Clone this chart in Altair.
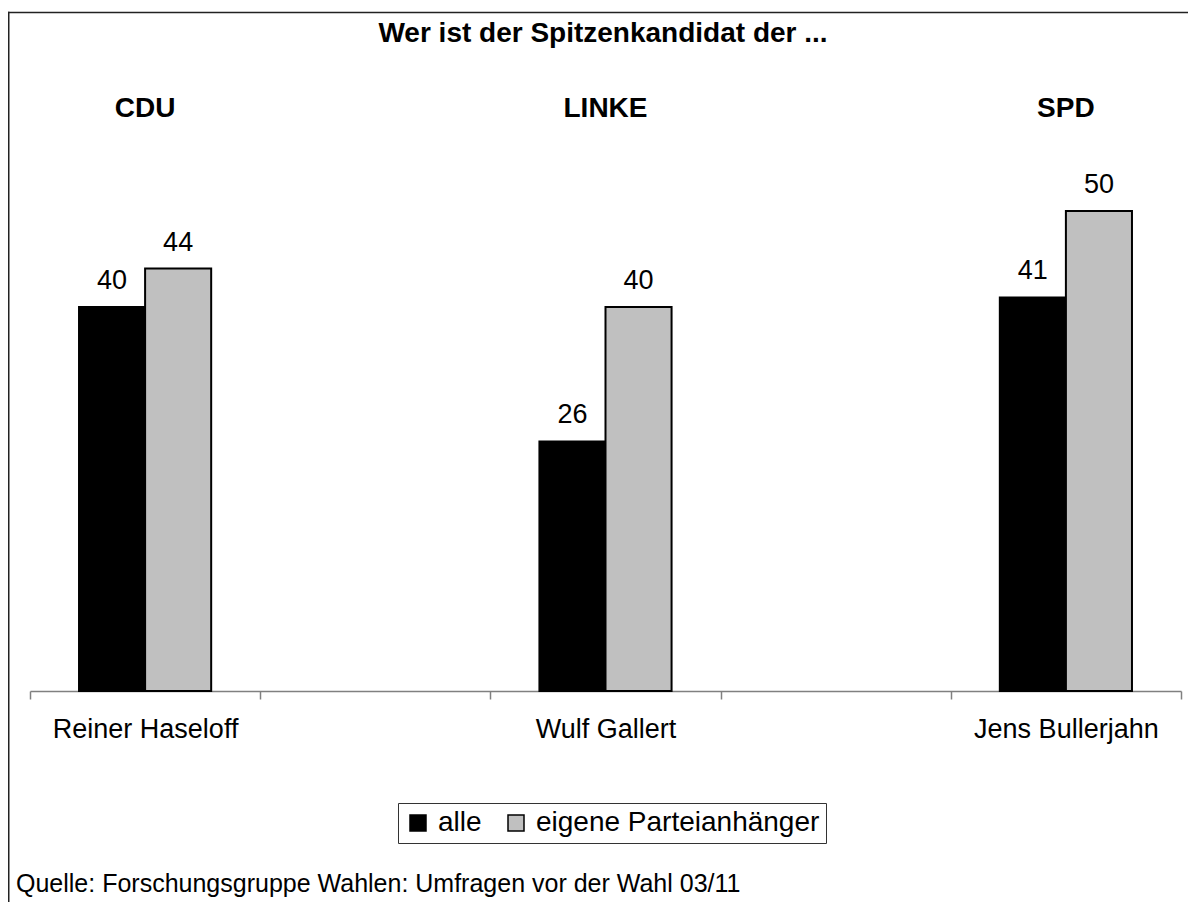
import altair as alt
import pandas as pd

# ---- data -------------------------------------------------------------
candidates = ["Reiner Haseloff", "Wulf Gallert", "Jens Bullerjahn"]
parties = ["CDU", "LINKE", "SPD"]
series_names = ["alle", "eigene Parteianhänger"]
values_alle = [40, 26, 41]
values_anhaenger = [44, 40, 50]
# axis slots: candidates separated by empty slots
axis_slots = ["Reiner Haseloff", " ", "Wulf Gallert", "  ", "Jens Bullerjahn"]
title_text = "Wer ist der Spitzenkandidat der ..."
source_text = "Quelle: Forschungsgruppe Wahlen: Umfragen vor der Wahl 03/11"

rows = []
for c, p, a, e in zip(candidates, parties, values_alle, values_anhaenger):
    rows.append({"candidate": c, "party": p, "series": series_names[0], "value": a})
    rows.append({"candidate": c, "party": p, "series": series_names[1], "value": e})
df = pd.DataFrame(rows)
party_df = pd.DataFrame({"candidate": candidates, "party": parties})
title_df = pd.DataFrame({"label": [title_text]})
source_df = pd.DataFrame({"label": [source_text]})
one = pd.DataFrame({"k": [0]})

FONT = "Liberation Sans"

x_scale = alt.Scale(domain=axis_slots, paddingInner=0, paddingOuter=0)
x_enc = alt.X(
    "candidate:N",
    scale=x_scale,
    axis=alt.Axis(
        title=None,
        tickBand="extent",
        labelAngle=0,
        labelFont=FONT,
        labelFontSize=27,
        labelColor="black",
        labelBaseline="alphabetic",
        labelPadding=38,
        labelLimit=0,
        tickSize=8,
        tickColor="#808080",
        tickWidth=1.5,
        domainColor="#808080",
        domainWidth=1.5,
        grid=False,
    ),
)
x_off = alt.XOffset(
    "series:N",
    scale=alt.Scale(domain=series_names, paddingInner=0, paddingOuter=0.742),
)
y_enc = alt.Y("value:Q", scale=alt.Scale(domain=[0, 60]), axis=None)

bars = alt.Chart(df).mark_bar(stroke="black", strokeWidth=2).encode(
    x=x_enc,
    xOffset=x_off,
    y=y_enc,
    color=alt.Color(
        "series:N",
        scale=alt.Scale(domain=series_names, range=["#000000", "#c0c0c0"]),
        legend=alt.Legend(
            title=None,
            orient="none",
            legendX=368,
            legendY=688,
            direction="horizontal",
            symbolType="square",
            symbolSize=256,
            symbolStrokeColor="black",
            symbolStrokeWidth=1.5,
            symbolOpacity=1,
            labelFont=FONT,
            labelFontSize=28,
            labelColor="black",
            labelLimit=0,
            labelOffset=6,
            columnPadding=20,
            strokeColor="#333333",
            padding=6,
        ),
    ),
)

value_labels = alt.Chart(df).mark_text(
    font=FONT, fontSize=27, baseline="alphabetic", dy=-18, color="black"
).encode(x=x_enc, xOffset=x_off, y=y_enc, text="value:Q")

party_labels = alt.Chart(party_df).mark_text(
    font=FONT, fontSize=28, fontWeight="bold", baseline="alphabetic", color="black"
).encode(x=x_enc, y=alt.value(2), text="party:N")

title = alt.Chart(title_df).mark_text(
    font=FONT, fontSize=28, fontWeight="bold", baseline="alphabetic", color="black"
).encode(x=alt.value(573), y=alt.value(-73), text="label:N")

source = alt.Chart(source_df).mark_text(
    font=FONT, fontSize=25, baseline="alphabetic", align="left", color="black"
).encode(x=alt.value(-14), y=alt.value(777), text="label:N")

frame_v = alt.Chart(one).mark_rule(color="#222222", strokeWidth=1.5).encode(
    x=alt.value(-21.25), y=alt.value(-103.25), y2=alt.value(800)
)
frame_h = alt.Chart(one).mark_rule(color="#222222", strokeWidth=1.5).encode(
    x=alt.value(-22), x2=alt.value(1200), y=alt.value(-102.5)
)

chart = (
    alt.layer(frame_v, frame_h, bars, value_labels, party_labels, title, source)
    .properties(
        width=1151,
        height=576,
        autosize=alt.AutoSizeParams(type="none"),
        padding={"left": 22, "top": 107, "right": 7, "bottom": 211},
        background="white",
    )
    .configure_view(stroke=None)
)

chart.save("out.html", embed_options={"renderer": "svg", "actions": False})
